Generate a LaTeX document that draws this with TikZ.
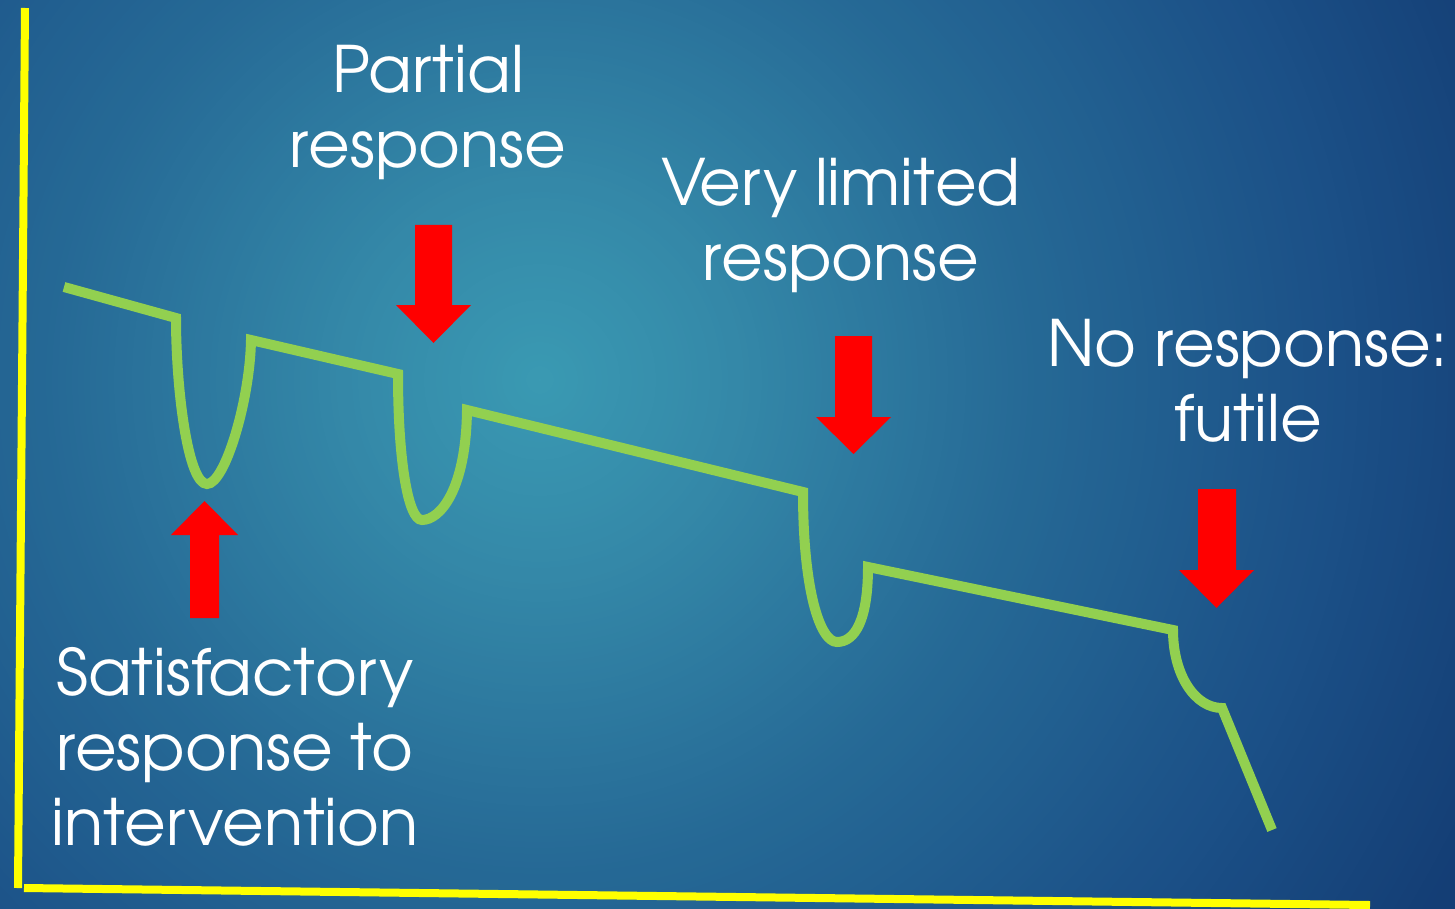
\documentclass[tikz,border=0pt]{standalone}
\usepackage[T1]{fontenc}
\usepackage{avant}
\renewcommand{\familydefault}{\sfdefault}

\definecolor{bgA}{HTML}{3A9AB3}
\definecolor{bgB}{HTML}{3488A8}
\definecolor{bgC}{HTML}{266A96}
\definecolor{bgD}{HTML}{1B5087}
\definecolor{bgE}{HTML}{143E75}
\definecolor{axisyellow}{HTML}{FFFF00}
\definecolor{curvegreen}{HTML}{92D050}
\definecolor{arrowred}{HTML}{FF0000}

\tikzset{
  axisline/.style={draw=axisyellow, line width=4pt},
  trend/.style={draw=curvegreen, line width=5pt},
  blockarrow/.style={fill=arrowred, draw=none},
  label/.style={text=white, align=center, inner sep=0pt,
    font=\fontsize{32}{37.5}\selectfont}
}

\begin{document}
\begin{tikzpicture}[x=0.5pt, y=-0.5pt]
  \useasboundingbox (0,0) rectangle (1455,909);

  % background: radial glow built from concentric discs
  \coordinate (glow) at (540,380);
  \begin{scope}
    \clip (0,0) rectangle (1455,909);
    \foreach \r in {1100,1094,...,800} {
      \pgfmathsetmacro\t{min(100,(\r-800)/2.4)}
      \fill[bgE!\t!bgD] (glow) circle (\r);
    }
    \foreach \r in {794,788,...,480} {
      \pgfmathsetmacro\t{(\r-480)/3.2}
      \fill[bgD!\t!bgC] (glow) circle (\r);
    }
    \foreach \r in {474,468,...,200} {
      \pgfmathsetmacro\t{(\r-200)/2.8}
      \fill[bgC!\t!bgB] (glow) circle (\r);
    }
    \foreach \r in {194,188,...,2} {
      \pgfmathsetmacro\t{\r/2}
      \fill[bgB!\t!bgA] (glow) circle (\r);
    }
  \end{scope}

  % axes
  \coordinate (ytop) at (25,8);
  \coordinate (origin) at (18,888);
  \coordinate (xleft) at (24,888);
  \coordinate (xend) at (1370,905);
  \draw[axisline] (ytop) -- (origin);
  \draw[axisline] (xleft) -- (xend);

  % trajectory with responses to interventions
  \draw[trend]
    (64,287) -- (176,318)
    .. controls (176,390) and (188,484) .. (207,484)
    .. controls (225,484) and (250,400) .. (251,340)
    -- (398,374)
    .. controls (398,460) and (408,520) .. (422,520)
    .. controls (440,520) and (466,490) .. (467,410)
    -- (803,492)
    .. controls (803,590) and (820,642) .. (837,642)
    .. controls (855,642) and (868,620) .. (868,567)
    -- (1173,630)
    .. controls (1173,675) and (1195,708) .. (1222,708)
    -- (1272,830);

  % red block arrows
  \fill[blockarrow] (190,618) -- (190,535) -- (171,535) -- (204.5,501)
    -- (238,535) -- (219,535) -- (219,618) -- cycle;
  \fill[blockarrow] (415,225) -- (452,225) -- (452,305) -- (471,305)
    -- (433.5,343) -- (396,305) -- (415,305) -- cycle;
  \fill[blockarrow] (835,336) -- (872,336) -- (872,417) -- (891,417)
    -- (853.5,454) -- (816,417) -- (835,417) -- cycle;
  \fill[blockarrow] (1198,489) -- (1236,489) -- (1236,570) -- (1254,570)
    -- (1216.5,608) -- (1179,570) -- (1198,570) -- cycle;

  % labels (anchored at the baseline of their last line)
  \node[label, anchor=base] (partial) at (428,168) {Partial\\response};
  \node[label, anchor=base] (limited) at (841,280) {Very limited\\response};
  \node[label, anchor=base] (none) at (1248,441) {No response:\\futile};
  \node[label, anchor=base] (satisf) at (235,845) {Satisfactory\\response to\\intervention};
\end{tikzpicture}
\end{document}
